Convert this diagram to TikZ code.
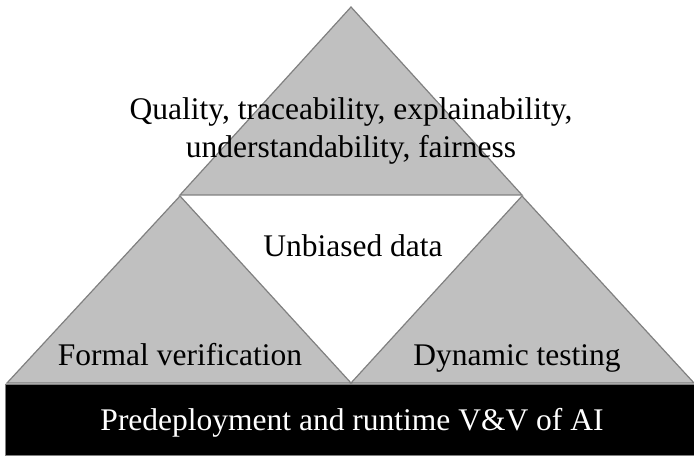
\documentclass[tikz,border=0pt]{standalone}
\usepackage{fontspec}
\setmainfont{Liberation Serif}
\begin{document}
\begin{tikzpicture}[x=1pt,y=-1pt,
  tri/.style={fill={rgb,255:red,192;green,192;blue,192},draw={rgb,255:red,128;green,128;blue,128},line width=1.2pt,line join=miter},
  lbl/.style={anchor=base,inner sep=0pt,font=\fontsize{31.5}{37.5}\selectfont,align=center}]
\useasboundingbox (0,0) rectangle (694,457);
% triangles
\draw[tri] (351,7) -- (522,195) -- (180,195) -- cycle;
\draw[tri] (180,196) -- (351,383) -- (7,383) -- cycle;
\draw[tri] (522,196) -- (694,383) -- (351,383) -- cycle;
% bottom bar
\draw[fill=black,draw={rgb,255:red,128;green,128;blue,128},line width=1pt] (5,384) rectangle (694,455);
% labels
\node[lbl] (top1) at (351,120) {Quality, traceability, explainability,};
\node[lbl] (top2) at (351,158) {understandability, fairness};
\node[lbl] (mid) at (353,257) {Unbiased data};
\node[lbl] (fv) at (180,366) {Formal verification};
\node[lbl] (dt) at (517,366) {Dynamic testing};
\node[lbl,text=white] (bar) at (352,430) {Predeployment and runtime V\&V of AI};
\end{tikzpicture}
\end{document}
